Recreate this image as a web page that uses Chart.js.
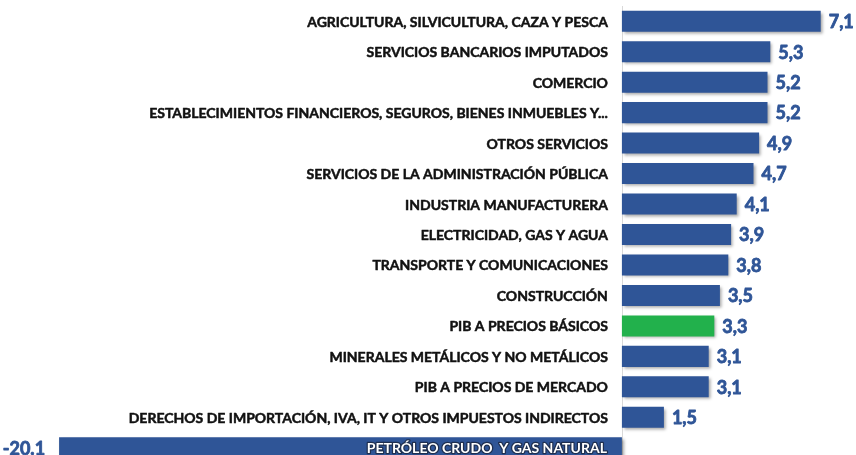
<!DOCTYPE html>
<html>
<head>
<meta charset="utf-8">
<script src="https://cdn.jsdelivr.net/npm/chart.js@4"></script>
<style>
  html, body { margin: 0; padding: 0; background: #fff; overflow: hidden; }
  #wrap { width: 856px; height: 470px; position: relative; }
</style>
</head>
<body>
<div id="wrap"><canvas id="chart"></canvas></div>
<script>
const CATEGORIES = [
    'AGRICULTURA, SILVICULTURA, CAZA Y PESCA',
    'SERVICIOS BANCARIOS IMPUTADOS',
    'COMERCIO',
    'ESTABLECIMIENTOS FINANCIEROS, SEGUROS, BIENES INMUEBLES Y...',
    'OTROS SERVICIOS',
    'SERVICIOS DE LA ADMINISTRACIÓN PÚBLICA',
    'INDUSTRIA MANUFACTURERA',
    'ELECTRICIDAD, GAS Y AGUA',
    'TRANSPORTE Y COMUNICACIONES',
    'CONSTRUCCIÓN',
    'PIB A PRECIOS BÁSICOS',
    'MINERALES METÁLICOS Y NO METÁLICOS',
    'PIB A PRECIOS DE MERCADO',
    'DERECHOS DE IMPORTACIÓN, IVA, IT Y OTROS IMPUESTOS INDIRECTOS',
    'PETRÓLEO CRUDO  Y GAS NATURAL'
];
const VALUES = [7.1, 5.3, 5.2, 5.2, 4.9, 4.7, 4.1, 3.9, 3.8, 3.5, 3.3, 3.1, 3.1, 1.5, -20.1];
const HIGHLIGHT = 'PIB A PRECIOS BÁSICOS';

const BLUE = '#2f5597';
const GREEN = '#22b14c';
const LABEL_FONT = 'bold 14px Lato, "DejaVu Sans", sans-serif';
const VALUE_FONT = 'bold 18px Lato, "DejaVu Sans", sans-serif';

function fmt(v) {
    // the source uses a comma for positives and a dot for the negative
    return v < 0 ? v.toFixed(1) : v.toFixed(1).replace('.', ',');
}

// shadow under bars + zero line
const barShadow = {
    id: 'barShadow',
    beforeDatasetsDraw(chart) {
        const { ctx, chartArea, scales } = chart;
        const x0 = Math.round(scales.x.getPixelForValue(0)) + 0.5;
        ctx.save();
        ctx.strokeStyle = '#d9d9d9';
        ctx.lineWidth = 1;
        ctx.beginPath();
        ctx.moveTo(x0, chartArea.top);
        ctx.lineTo(x0, chartArea.bottom);
        ctx.stroke();
        ctx.restore();

        ctx.save();
        ctx.shadowColor = 'rgba(0,0,0,0.35)';
        ctx.shadowBlur = 3;
        ctx.shadowOffsetX = 2;
        ctx.shadowOffsetY = 2;
    },
    afterDatasetsDraw(chart) {
        chart.ctx.restore();
    }
};

// category names and value labels
const barLabels = {
    id: 'barLabels',
    afterDatasetsDraw(chart) {
        const { ctx, scales } = chart;
        const meta = chart.getDatasetMeta(0);
        const x0 = scales.x.getPixelForValue(0);
        ctx.save();
        ctx.textBaseline = 'middle';
        ctx.lineJoin = 'round';
        meta.data.forEach((bar, i) => {
            const v = VALUES[i];
            const y = bar.y;
            ctx.font = LABEL_FONT;
            ctx.textAlign = 'right';
            if (v >= 0) {
                ctx.fillStyle = '#111111';
                ctx.strokeStyle = '#111111';
                ctx.lineWidth = 0.5;
                ctx.strokeText(CATEGORIES[i], x0 - 14, y + 1);
                ctx.fillText(CATEGORIES[i], x0 - 14, y + 1);
            } else {
                ctx.lineWidth = 2.5;
                ctx.strokeStyle = '#1f2f4f';
                ctx.strokeText(CATEGORIES[i], x0 - 15, y + 1);
                ctx.fillStyle = '#ffffff';
                ctx.fillText(CATEGORIES[i], x0 - 15, y + 1);
            }

            ctx.font = VALUE_FONT;
            ctx.fillStyle = BLUE;
            ctx.strokeStyle = BLUE;
            ctx.lineWidth = 0.8;
            if (v >= 0) {
                ctx.textAlign = 'left';
                ctx.strokeText(fmt(v), bar.x + 8, y + 1);
                ctx.fillText(fmt(v), bar.x + 8, y + 1);
            } else {
                ctx.textAlign = 'right';
                ctx.strokeText(fmt(v), bar.x - 14, y + 1);
                ctx.fillText(fmt(v), bar.x - 14, y + 1);
            }
        });
        ctx.restore();
    }
};

new Chart(document.getElementById('chart'), {
    type: 'bar',
    data: {
        labels: CATEGORIES,
        datasets: [{
            data: VALUES,
            backgroundColor: CATEGORIES.map(c => c === HIGHLIGHT ? GREEN : BLUE),
            borderWidth: 0,
            categoryPercentage: 1,
            barPercentage: 0.69
        }]
    },
    options: {
        indexAxis: 'y',
        responsive: true,
        maintainAspectRatio: false,
        animation: false,
        layout: { padding: { top: 6, bottom: 7, left: 0, right: 0 } },
        plugins: { legend: { display: false }, tooltip: { enabled: false } },
        scales: {
            x: { display: false, min: -22.21, max: 8.36 },
            y: { display: false }
        }
    },
    plugins: [barShadow, barLabels]
});
</script>
</body>
</html>
